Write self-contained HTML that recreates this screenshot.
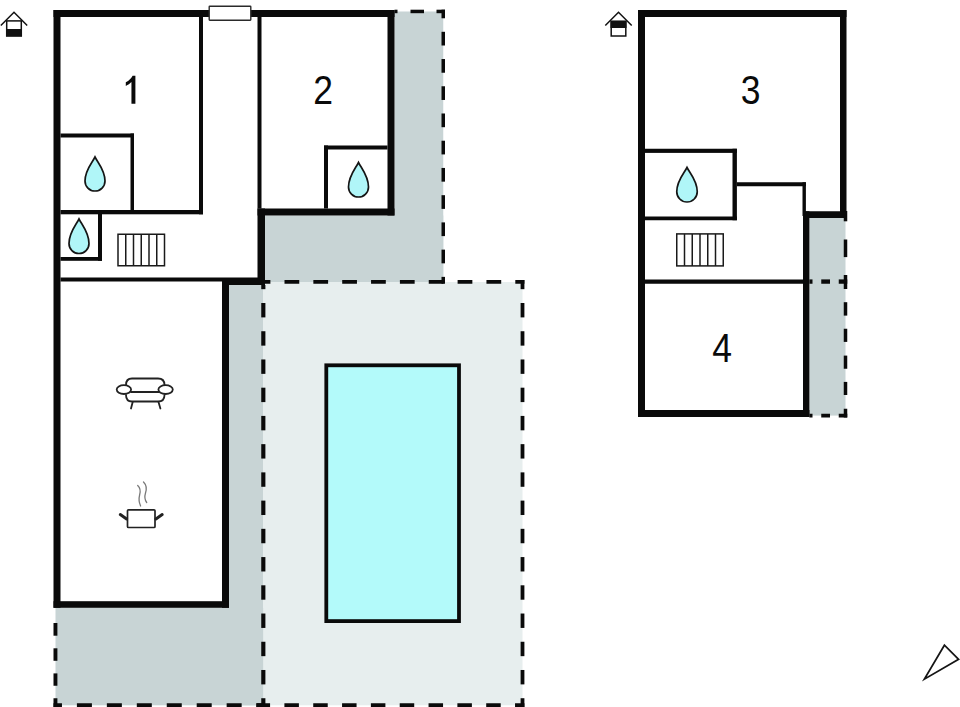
<!DOCTYPE html>
<html><head><meta charset="utf-8"><style>
html,body{margin:0;padding:0;background:#fff;width:960px;height:707px;overflow:hidden;}
svg{display:block;}
</style></head><body>
<svg width="960" height="707" viewBox="0 0 960 707">
<rect width="960" height="707" fill="#fff"/>
<rect x="394.50" y="11.50" width="48.75" height="270.50" fill="#c8d4d5"/>
<rect x="261.00" y="215.50" width="182.25" height="66.50" fill="#c8d4d5"/>
<rect x="229.00" y="285.00" width="34.40" height="420.30" fill="#c8d4d5"/>
<rect x="55.50" y="607.80" width="207.90" height="97.50" fill="#c8d4d5"/>
<rect x="263.40" y="282.00" width="259.10" height="423.30" fill="#e7eeee"/>
<rect x="809.40" y="218.00" width="36.10" height="197.60" fill="#c8d4d5"/>
<rect x="324.40" y="363.40" width="136.50" height="259.60" fill="#0a0a0a"/>
<rect x="328.20" y="367.20" width="128.90" height="252.00" fill="#b3fafa"/>
<rect x="394.50" y="9.70" width="3.00" height="3.50" fill="#0a0a0a"/>
<rect x="410.50" y="9.70" width="13.50" height="3.50" fill="#0a0a0a"/>
<rect x="436.50" y="9.70" width="8.50" height="3.50" fill="#0a0a0a"/>
<rect x="441.50" y="9.70" width="3.50" height="8.57" fill="#0a0a0a"/>
<rect x="441.50" y="31.80" width="3.50" height="13.70" fill="#0a0a0a"/>
<rect x="441.50" y="59.03" width="3.50" height="13.70" fill="#0a0a0a"/>
<rect x="441.50" y="86.26" width="3.50" height="13.70" fill="#0a0a0a"/>
<rect x="441.50" y="113.49" width="3.50" height="13.70" fill="#0a0a0a"/>
<rect x="441.50" y="140.72" width="3.50" height="13.70" fill="#0a0a0a"/>
<rect x="441.50" y="167.95" width="3.50" height="13.70" fill="#0a0a0a"/>
<rect x="441.50" y="195.18" width="3.50" height="13.70" fill="#0a0a0a"/>
<rect x="441.50" y="222.41" width="3.50" height="13.70" fill="#0a0a0a"/>
<rect x="441.50" y="249.64" width="3.50" height="13.70" fill="#0a0a0a"/>
<rect x="441.50" y="276.87" width="3.50" height="6.88" fill="#0a0a0a"/>
<rect x="265.00" y="280.00" width="5.40" height="3.75" fill="#0a0a0a"/>
<rect x="284.50" y="280.00" width="14.75" height="3.75" fill="#0a0a0a"/>
<rect x="313.35" y="280.00" width="14.75" height="3.75" fill="#0a0a0a"/>
<rect x="342.20" y="280.00" width="14.75" height="3.75" fill="#0a0a0a"/>
<rect x="371.05" y="280.00" width="14.75" height="3.75" fill="#0a0a0a"/>
<rect x="399.90" y="280.00" width="14.75" height="3.75" fill="#0a0a0a"/>
<rect x="428.75" y="280.00" width="14.75" height="3.75" fill="#0a0a0a"/>
<rect x="457.60" y="280.00" width="14.75" height="3.75" fill="#0a0a0a"/>
<rect x="486.45" y="280.00" width="14.75" height="3.75" fill="#0a0a0a"/>
<rect x="515.30" y="280.00" width="9.10" height="3.75" fill="#0a0a0a"/>
<rect x="520.60" y="280.00" width="3.80" height="9.17" fill="#0a0a0a"/>
<rect x="520.60" y="303.00" width="3.80" height="14.40" fill="#0a0a0a"/>
<rect x="520.60" y="331.23" width="3.80" height="14.40" fill="#0a0a0a"/>
<rect x="520.60" y="359.46" width="3.80" height="14.40" fill="#0a0a0a"/>
<rect x="520.60" y="387.69" width="3.80" height="14.40" fill="#0a0a0a"/>
<rect x="520.60" y="415.92" width="3.80" height="14.40" fill="#0a0a0a"/>
<rect x="520.60" y="444.15" width="3.80" height="14.40" fill="#0a0a0a"/>
<rect x="520.60" y="472.38" width="3.80" height="14.40" fill="#0a0a0a"/>
<rect x="520.60" y="500.61" width="3.80" height="14.40" fill="#0a0a0a"/>
<rect x="520.60" y="528.84" width="3.80" height="14.40" fill="#0a0a0a"/>
<rect x="520.60" y="557.07" width="3.80" height="14.40" fill="#0a0a0a"/>
<rect x="520.60" y="585.30" width="3.80" height="14.40" fill="#0a0a0a"/>
<rect x="520.60" y="613.53" width="3.80" height="14.40" fill="#0a0a0a"/>
<rect x="520.60" y="641.76" width="3.80" height="14.40" fill="#0a0a0a"/>
<rect x="520.60" y="669.99" width="3.80" height="14.40" fill="#0a0a0a"/>
<rect x="520.60" y="698.22" width="3.80" height="8.78" fill="#0a0a0a"/>
<rect x="261.25" y="285.00" width="4.15" height="4.17" fill="#0a0a0a"/>
<rect x="261.25" y="303.00" width="4.15" height="14.40" fill="#0a0a0a"/>
<rect x="261.25" y="331.23" width="4.15" height="14.40" fill="#0a0a0a"/>
<rect x="261.25" y="359.46" width="4.15" height="14.40" fill="#0a0a0a"/>
<rect x="261.25" y="387.69" width="4.15" height="14.40" fill="#0a0a0a"/>
<rect x="261.25" y="415.92" width="4.15" height="14.40" fill="#0a0a0a"/>
<rect x="261.25" y="444.15" width="4.15" height="14.40" fill="#0a0a0a"/>
<rect x="261.25" y="472.38" width="4.15" height="14.40" fill="#0a0a0a"/>
<rect x="261.25" y="500.61" width="4.15" height="14.40" fill="#0a0a0a"/>
<rect x="261.25" y="528.84" width="4.15" height="14.40" fill="#0a0a0a"/>
<rect x="261.25" y="557.07" width="4.15" height="14.40" fill="#0a0a0a"/>
<rect x="261.25" y="585.30" width="4.15" height="14.40" fill="#0a0a0a"/>
<rect x="261.25" y="613.53" width="4.15" height="14.40" fill="#0a0a0a"/>
<rect x="261.25" y="641.76" width="4.15" height="14.40" fill="#0a0a0a"/>
<rect x="261.25" y="669.99" width="4.15" height="14.40" fill="#0a0a0a"/>
<rect x="261.25" y="698.22" width="4.15" height="8.78" fill="#0a0a0a"/>
<rect x="53.50" y="623.00" width="3.90" height="12.70" fill="#0a0a0a"/>
<rect x="53.50" y="648.30" width="3.90" height="12.50" fill="#0a0a0a"/>
<rect x="53.50" y="673.40" width="3.90" height="12.35" fill="#0a0a0a"/>
<rect x="53.50" y="698.25" width="3.90" height="8.75" fill="#0a0a0a"/>
<rect x="53.50" y="703.25" width="8.45" height="3.75" fill="#0a0a0a"/>
<rect x="76.90" y="703.25" width="15.00" height="3.75" fill="#0a0a0a"/>
<rect x="106.85" y="703.25" width="15.00" height="3.75" fill="#0a0a0a"/>
<rect x="136.80" y="703.25" width="15.00" height="3.75" fill="#0a0a0a"/>
<rect x="166.75" y="703.25" width="15.00" height="3.75" fill="#0a0a0a"/>
<rect x="196.70" y="703.25" width="15.00" height="3.75" fill="#0a0a0a"/>
<rect x="226.65" y="703.25" width="15.00" height="3.75" fill="#0a0a0a"/>
<rect x="256.60" y="703.25" width="6.40" height="3.75" fill="#0a0a0a"/>
<rect x="256.25" y="703.25" width="13.82" height="3.75" fill="#0a0a0a"/>
<rect x="284.40" y="703.25" width="14.50" height="3.75" fill="#0a0a0a"/>
<rect x="313.23" y="703.25" width="14.50" height="3.75" fill="#0a0a0a"/>
<rect x="342.06" y="703.25" width="14.50" height="3.75" fill="#0a0a0a"/>
<rect x="370.89" y="703.25" width="14.50" height="3.75" fill="#0a0a0a"/>
<rect x="399.72" y="703.25" width="14.50" height="3.75" fill="#0a0a0a"/>
<rect x="428.55" y="703.25" width="14.50" height="3.75" fill="#0a0a0a"/>
<rect x="457.38" y="703.25" width="14.50" height="3.75" fill="#0a0a0a"/>
<rect x="486.21" y="703.25" width="14.50" height="3.75" fill="#0a0a0a"/>
<rect x="515.04" y="703.25" width="9.36" height="3.75" fill="#0a0a0a"/>
<rect x="843.75" y="211.00" width="3.50" height="10.30" fill="#0a0a0a"/>
<rect x="843.75" y="239.50" width="3.50" height="17.60" fill="#0a0a0a"/>
<rect x="843.75" y="275.00" width="3.50" height="14.00" fill="#0a0a0a"/>
<rect x="843.75" y="302.20" width="3.50" height="13.40" fill="#0a0a0a"/>
<rect x="843.75" y="328.75" width="3.50" height="13.15" fill="#0a0a0a"/>
<rect x="843.75" y="355.60" width="3.50" height="13.15" fill="#0a0a0a"/>
<rect x="843.75" y="381.90" width="3.50" height="13.10" fill="#0a0a0a"/>
<rect x="843.75" y="408.75" width="3.50" height="8.75" fill="#0a0a0a"/>
<rect x="809.40" y="279.40" width="3.10" height="4.35" fill="#0a0a0a"/>
<rect x="821.25" y="279.40" width="8.75" height="4.35" fill="#0a0a0a"/>
<rect x="838.75" y="279.40" width="8.50" height="4.35" fill="#0a0a0a"/>
<rect x="809.40" y="413.75" width="3.10" height="3.75" fill="#0a0a0a"/>
<rect x="821.25" y="413.75" width="8.75" height="3.75" fill="#0a0a0a"/>
<rect x="838.75" y="413.75" width="8.50" height="3.75" fill="#0a0a0a"/>
<rect x="53.50" y="10.00" width="341.00" height="7.00" fill="#0a0a0a"/>
<rect x="53.50" y="10.00" width="7.00" height="597.80" fill="#0a0a0a"/>
<rect x="199.00" y="17.00" width="4.00" height="197.30" fill="#0a0a0a"/>
<rect x="60.50" y="210.00" width="142.50" height="4.30" fill="#0a0a0a"/>
<rect x="60.50" y="133.50" width="73.50" height="4.00" fill="#0a0a0a"/>
<rect x="130.50" y="133.50" width="3.50" height="76.50" fill="#0a0a0a"/>
<rect x="98.00" y="214.00" width="4.00" height="46.80" fill="#0a0a0a"/>
<rect x="60.50" y="257.00" width="41.50" height="3.80" fill="#0a0a0a"/>
<rect x="60.50" y="277.50" width="204.50" height="4.00" fill="#0a0a0a"/>
<rect x="222.00" y="278.00" width="43.00" height="7.00" fill="#0a0a0a"/>
<rect x="257.50" y="17.00" width="4.00" height="191.50" fill="#0a0a0a"/>
<rect x="257.50" y="208.50" width="7.50" height="76.50" fill="#0a0a0a"/>
<rect x="257.50" y="208.50" width="137.00" height="7.00" fill="#0a0a0a"/>
<rect x="387.50" y="10.00" width="7.00" height="205.50" fill="#0a0a0a"/>
<rect x="324.00" y="145.50" width="4.00" height="63.00" fill="#0a0a0a"/>
<rect x="324.00" y="145.50" width="63.50" height="4.00" fill="#0a0a0a"/>
<rect x="222.00" y="278.00" width="7.00" height="329.80" fill="#0a0a0a"/>
<rect x="53.50" y="601.20" width="175.50" height="6.60" fill="#0a0a0a"/>
<rect x="638.00" y="10.00" width="208.50" height="7.00" fill="#0a0a0a"/>
<rect x="638.00" y="10.00" width="7.00" height="407.00" fill="#0a0a0a"/>
<rect x="840.00" y="10.00" width="6.50" height="208.00" fill="#0a0a0a"/>
<rect x="803.00" y="211.25" width="43.50" height="6.75" fill="#0a0a0a"/>
<rect x="803.00" y="211.25" width="6.40" height="205.75" fill="#0a0a0a"/>
<rect x="638.00" y="410.00" width="171.40" height="7.00" fill="#0a0a0a"/>
<rect x="645.00" y="148.75" width="91.90" height="4.15" fill="#0a0a0a"/>
<rect x="645.00" y="216.50" width="91.90" height="3.75" fill="#0a0a0a"/>
<rect x="732.50" y="148.75" width="4.40" height="71.50" fill="#0a0a0a"/>
<rect x="736.90" y="182.25" width="69.00" height="4.00" fill="#0a0a0a"/>
<rect x="802.50" y="182.25" width="3.40" height="33.75" fill="#0a0a0a"/>
<rect x="645.00" y="279.50" width="158.00" height="4.25" fill="#0a0a0a"/>
<rect x="209.2" y="6.2" width="41.6" height="14.0" fill="#fff" stroke="#2a2a2a" stroke-width="1.4" rx="0.6"/>
<path d="M 95 157 C 98 163, 105.0 170.0, 105.0 181.0 A 10.0 10.0 0 0 1 85.0 181.0 C 85.0 170.0, 92 163, 95 157 Z" fill="#b0f6f8" stroke="#151515" stroke-width="1.7"/>
<path d="M 79 219 C 82 225, 89.0 232.5, 89.0 243.5 A 10.0 10.0 0 0 1 69.0 243.5 C 69.0 232.5, 76 225, 79 219 Z" fill="#b0f6f8" stroke="#151515" stroke-width="1.7"/>
<path d="M 358.5 162.5 C 361.5 168.5, 368.5 176.0, 368.5 187.0 A 10.0 10.0 0 0 1 348.5 187.0 C 348.5 176.0, 355.5 168.5, 358.5 162.5 Z" fill="#b0f6f8" stroke="#151515" stroke-width="1.7"/>
<path d="M 687 167.5 C 690 173.5, 697.25 180.5, 697.25 191.75 A 10.25 10.25 0 0 1 676.75 191.75 C 676.75 180.5, 684 173.5, 687 167.5 Z" fill="#b0f6f8" stroke="#151515" stroke-width="1.7"/>
<rect x="118" y="234.25" width="46.5" height="31.5" fill="#fff" stroke="#1a1a1a" stroke-width="1.5"/>
<line x1="125.75" y1="234.25" x2="125.75" y2="265.75" stroke="#1a1a1a" stroke-width="1.5"/>
<line x1="133.50" y1="234.25" x2="133.50" y2="265.75" stroke="#1a1a1a" stroke-width="1.5"/>
<line x1="141.25" y1="234.25" x2="141.25" y2="265.75" stroke="#1a1a1a" stroke-width="1.5"/>
<line x1="149.00" y1="234.25" x2="149.00" y2="265.75" stroke="#1a1a1a" stroke-width="1.5"/>
<line x1="156.75" y1="234.25" x2="156.75" y2="265.75" stroke="#1a1a1a" stroke-width="1.5"/>
<rect x="676.75" y="233.9" width="46.5" height="31.99999999999997" fill="#fff" stroke="#1a1a1a" stroke-width="1.5"/>
<line x1="684.50" y1="233.9" x2="684.50" y2="265.9" stroke="#1a1a1a" stroke-width="1.5"/>
<line x1="692.25" y1="233.9" x2="692.25" y2="265.9" stroke="#1a1a1a" stroke-width="1.5"/>
<line x1="700.00" y1="233.9" x2="700.00" y2="265.9" stroke="#1a1a1a" stroke-width="1.5"/>
<line x1="707.75" y1="233.9" x2="707.75" y2="265.9" stroke="#1a1a1a" stroke-width="1.5"/>
<line x1="715.50" y1="233.9" x2="715.50" y2="265.9" stroke="#1a1a1a" stroke-width="1.5"/>
<g fill="none" stroke="#222" stroke-width="1.8" stroke-linecap="round">
<path d="M 126 385 C 126 381, 128 378.5, 132 378.5 L 158 378.5 C 162 378.5, 164.5 381, 164.5 385"/>
<path d="M 131 392 L 159 392"/>
<path d="M 126 395 C 126 399, 128 401.5, 132 401.5 L 158 401.5 C 162 401.5, 164.5 399, 164.5 395"/>
<ellipse cx="123.9" cy="389.6" rx="7.2" ry="4.4" fill="#fff"/>
<ellipse cx="165.6" cy="389.6" rx="7.2" ry="4.4" fill="#fff"/>
<path d="M 132.7 402 L 131 408.5"/>
<path d="M 158.5 402 L 160.4 408.5"/>
</g>
<g fill="none" stroke="#222" stroke-linecap="round">
<rect x="127.5" y="509.8" width="27.5" height="17.7" rx="1" fill="#fff" stroke-width="1.7"/>
<path d="M 120.3 514.6 L 126.6 519" stroke-width="3"/>
<path d="M 162.2 514.6 L 155.9 519" stroke-width="3"/>
<path d="M 137.7 485.4 C 140.5 488, 140.8 491, 139.6 495 C 138.6 499, 139.2 503, 140.6 506" stroke="#7a7a7a" stroke-width="1.3"/>
<path d="M 143.5 482 C 146.5 485, 146.8 489, 145.5 493 C 144.3 497, 144.8 500, 146.7 502.5" stroke="#7a7a7a" stroke-width="1.3"/>
</g>
<g stroke="#111" fill="none" stroke-width="1.5">
<path d="M 0.8 25.5 L 14 12.3 L 27.2 25.5"/>
<rect x="6.7" y="20.9" width="14.6" height="15" fill="#fff"/>
</g>
<rect x="6" y="29" width="16" height="7.5" fill="#111"/>
<g stroke="#111" fill="none" stroke-width="1.5">
<path d="M 605.3 25.5 L 618.5 12.3 L 631.7 25.5"/>
<rect x="611.2" y="21.4" width="14.6" height="14.6" fill="#fff"/>
</g>
<rect x="610.5" y="20.7" width="16" height="7.3" fill="#111"/>

<path d="M 924.3 679.2 L 944.4 645.2 L 958.6 659.3 Z" fill="#fff" stroke="#151515" stroke-width="1.7" stroke-linejoin="miter"/>
<path d="M 131.45 103.75 L 135.4 103.75 L 135.4 75.66 L 132.6 75.66 C 131.5 78, 129 80.5, 125.8 82.2 L 125.8 85.9 C 128 85, 130 83.5, 131.45 82 Z" fill="#0a0a0a"/>
<text transform="translate(323 103.9) scale(0.86 1)" font-family="Liberation Sans, sans-serif" font-size="41.3" fill="#0a0a0a" text-anchor="middle">2</text>
<text transform="translate(750.5 103.9) scale(0.86 1)" font-family="Liberation Sans, sans-serif" font-size="41.3" fill="#0a0a0a" text-anchor="middle">3</text>
<text transform="translate(722 362) scale(0.86 1)" font-family="Liberation Sans, sans-serif" font-size="41.3" fill="#0a0a0a" text-anchor="middle">4</text>
</svg>
</body></html>
